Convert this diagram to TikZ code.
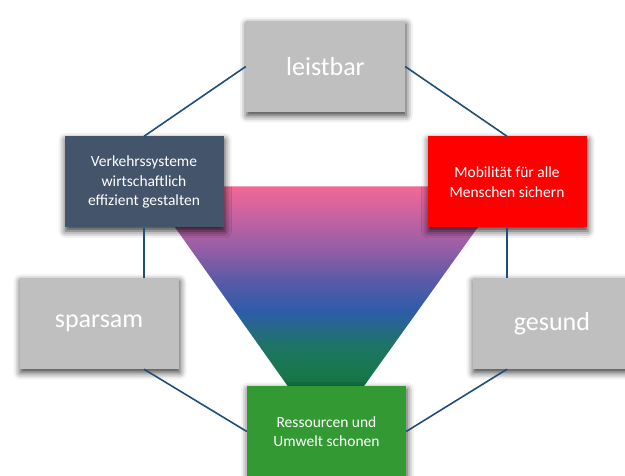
\documentclass[tikz,border=0pt]{standalone}
\usepackage{fontspec}
\setmainfont{Carlito}
\usetikzlibrary{shadows.blur}
\definecolor{boxgray}{HTML}{BFBFBF}
\definecolor{boxslate}{HTML}{44546A}
\definecolor{boxred}{HTML}{FF0000}
\definecolor{boxgreen}{HTML}{339933}
\definecolor{linkblue}{HTML}{1F4E79}
\definecolor{tc0}{HTML}{0F6E3A}
\definecolor{tc1}{HTML}{17784C}
\definecolor{tc2}{HTML}{1E7466}
\definecolor{tc3}{HTML}{2E5CAA}
\definecolor{tc4}{HTML}{5A5AA6}
\definecolor{tc5}{HTML}{9A5EA6}
\definecolor{tc6}{HTML}{C863A0}
\definecolor{tc7}{HTML}{F26896}
\pgfdeclareverticalshading{trapshade}{100bp}{color(0bp)=(tc0); color(25bp)=(tc0); color(29bp)=(tc1); color(36bp)=(tc2); color(44.5bp)=(tc3); color(52bp)=(tc4); color(60.5bp)=(tc5); color(68bp)=(tc6); color(75bp)=(tc7); color(100bp)=(tc7)}
\begin{document}
\begin{tikzpicture}[x=1pt,y=1pt,
  basebox/.style={minimum width=159pt, minimum height=91pt, inner sep=0pt,
    text=white, align=center,
    blur shadow={shadow xshift=1pt, shadow yshift=-3.5pt, shadow blur radius=7pt, shadow opacity=80}},
  bigbox/.style={basebox, fill=boxgray, font=\fontsize{26}{31}\selectfont},
  smallbox/.style={basebox, font=\fontsize{15.5}{19.5}\selectfont},
  link/.style={draw=linkblue, line width=1.6pt}]
\useasboundingbox (0,0) rectangle (625,475);
% funnel
\shade[shading=trapshade] (146,288.5) -- (507,288.5) -- (361.2,85) -- (290.5,85) -- cycle;
% boxes
\node[bigbox] (leist) at (325.5,408.5) {leistbar};
\node[smallbox, fill=boxslate] (vk) at (144,293) {Verkehrssysteme\\wirtschaftlich\\effizient gestalten};
\node[smallbox, fill=boxred] (mob) at (507,293) {Mobilität für alle\\Menschen sichern};
\node[bigbox] (sp) at (99,151.5) {sparsam};
\node[bigbox] (ge) at (552,151.5) {gesund};
\node[smallbox, fill=boxgreen] (gr) at (326.5,43.5) {Ressourcen und\\Umwelt schonen};
% connectors
\draw[link] (leist.west) -- (vk.north);
\draw[link] (leist.east) -- (mob.north);
\draw[link] (vk.south) -- (vk.south |- sp.north);
\draw[link] (mob.south) -- (mob.south |- ge.north);
\draw[link] (vk.south |- sp.south) -- (gr.west);
\draw[link] (mob.south |- ge.south) -- (gr.east);
\end{tikzpicture}
\end{document}
